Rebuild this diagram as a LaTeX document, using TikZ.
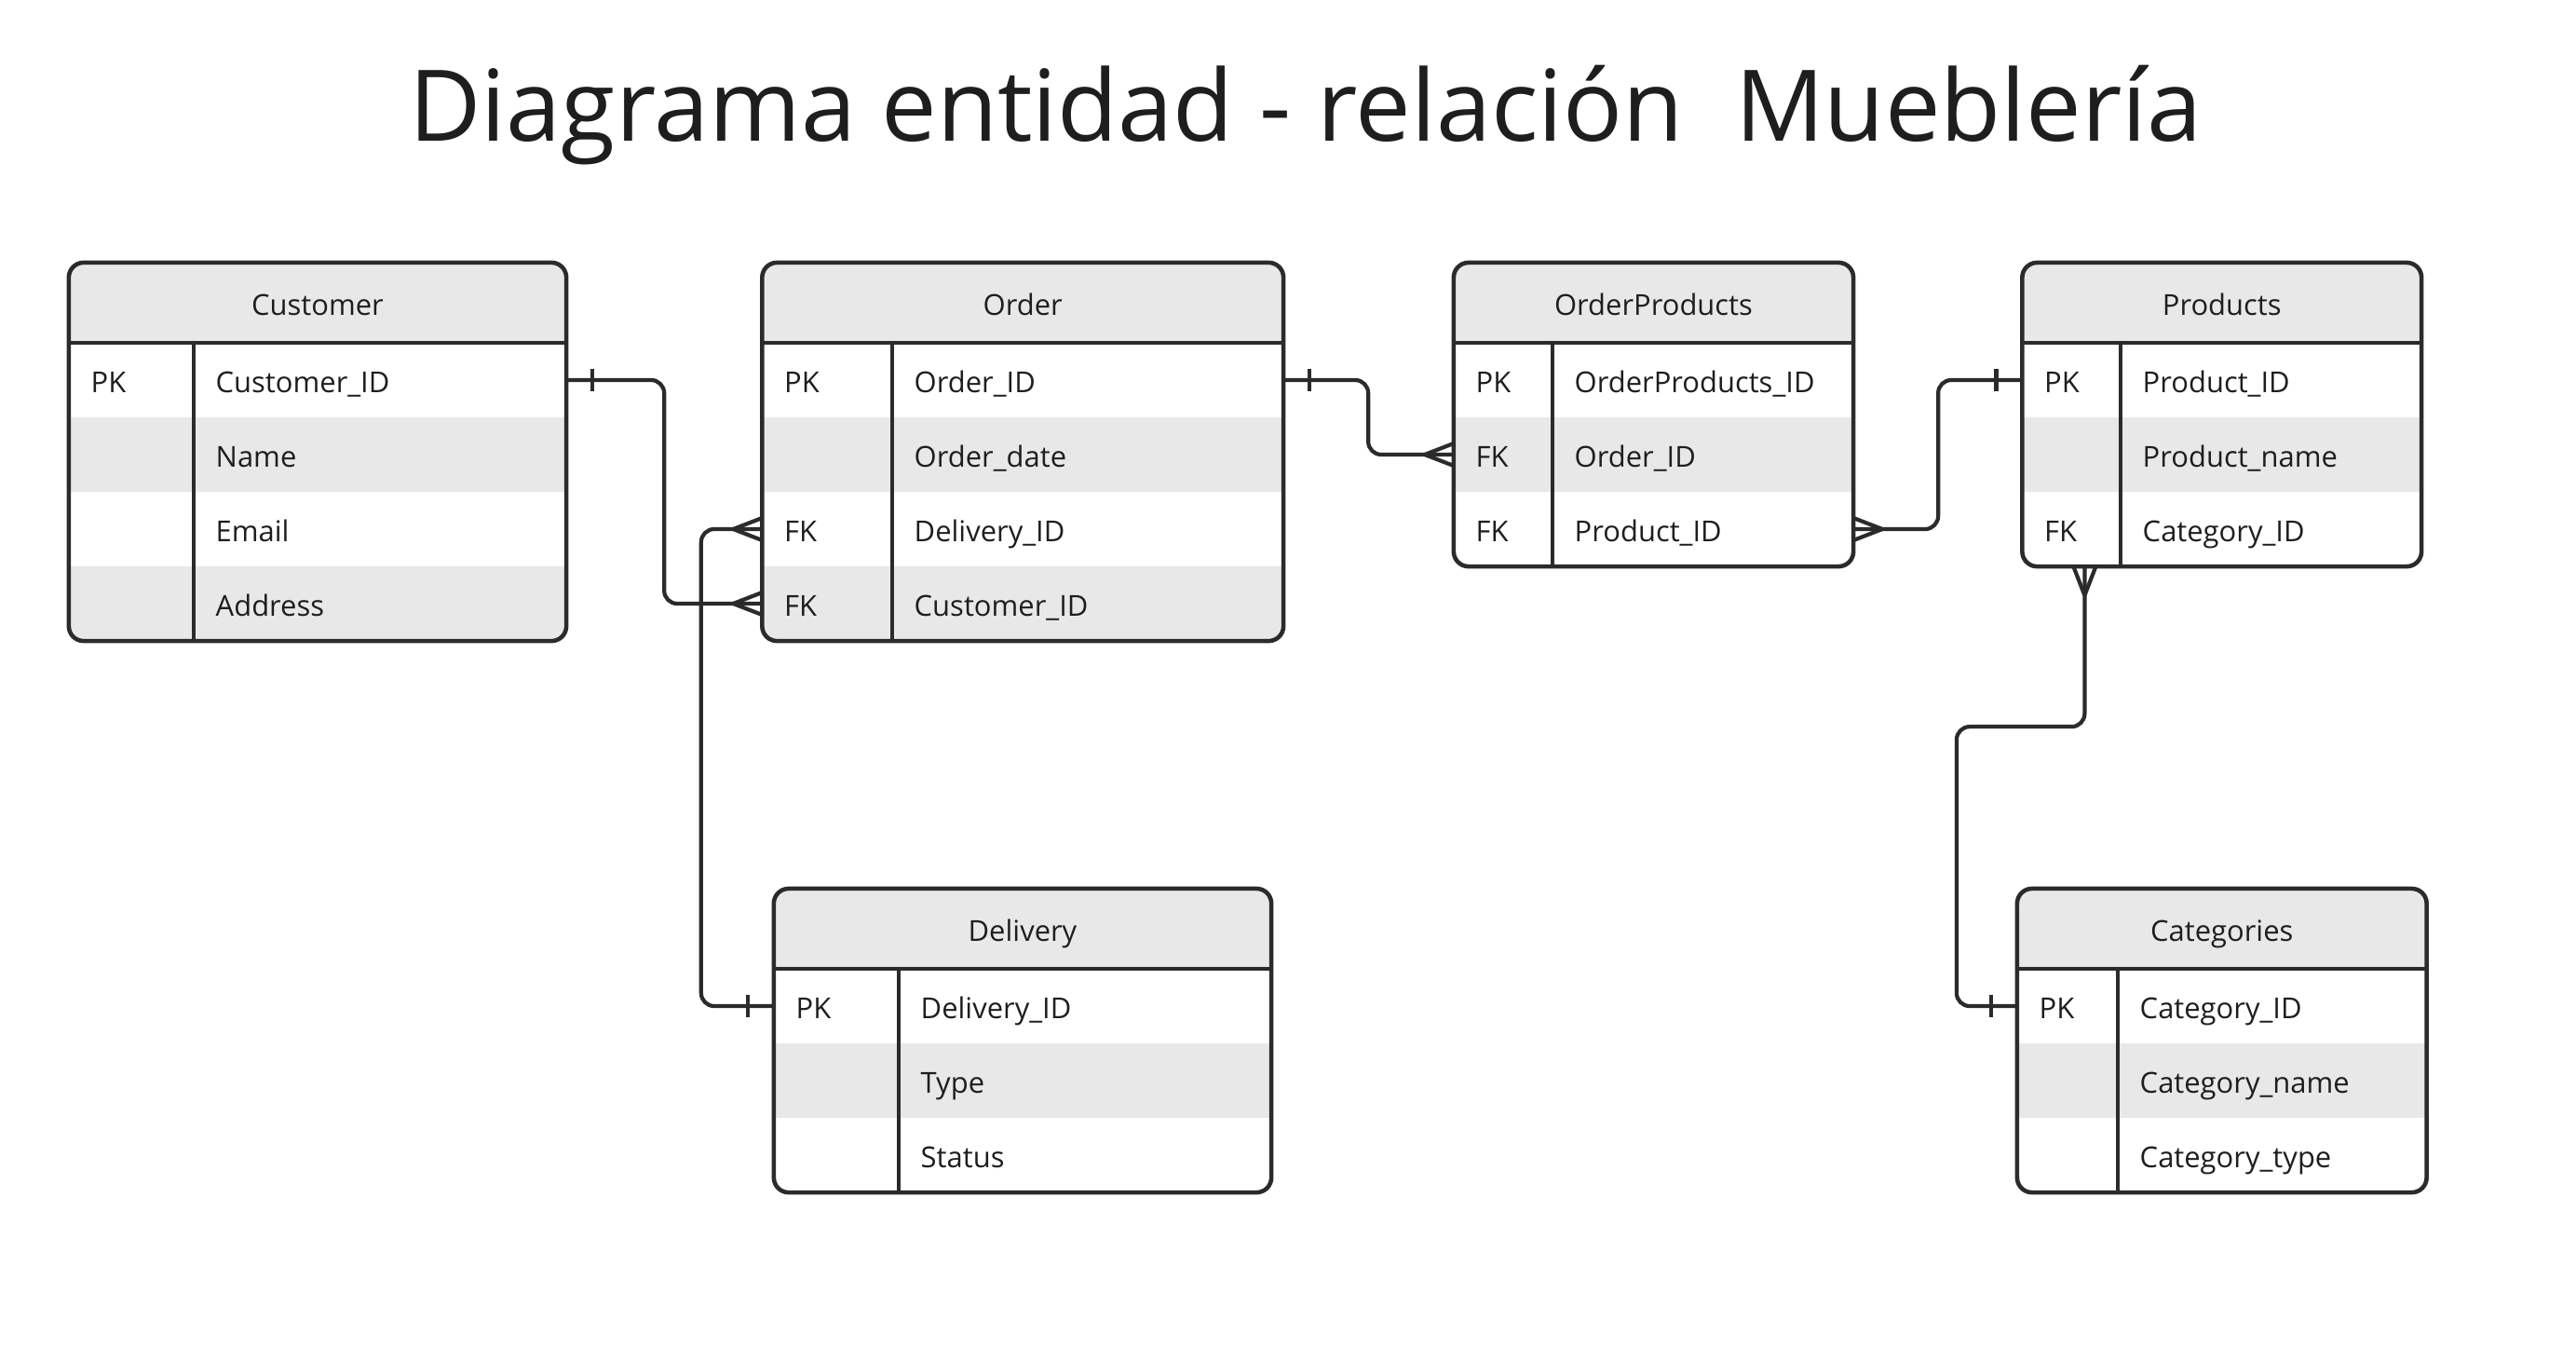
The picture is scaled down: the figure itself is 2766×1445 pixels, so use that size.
\documentclass[tikz,border=0pt]{standalone}
\usepackage{fontspec}
\setmainfont{Open Sans}
\usetikzlibrary{calc}
\definecolor{linecol}{HTML}{2B2B2B}
\definecolor{txtcol}{HTML}{1E1E1E}
\definecolor{rowgray}{HTML}{E8E8E8}
\tikzset{
  tbl/.style={draw=linecol, line width=1.3pt, rounded corners=0.16cm, inner sep=0pt, outer sep=0pt},
  tabline/.style={draw=linecol, line width=1.1pt},
  txt/.style={text=txtcol, font=\fontsize{8.8}{10}\selectfont, inner sep=0pt},
  conn/.style={draw=linecol, line width=1.2pt, rounded corners=0.14cm},
  ermark/.style={draw=linecol, line width=1.2pt}
}
% #1 name #2 x1 #3 x2 #4 divider x #5 top y #6 rows #7 title #8 rows list
\newcommand{\ertab}[8]{%
  \pgfmathsetmacro{\erhb}{#5+86}%
  \pgfmathsetmacro{\erbot}{#5+86+80*#6}%
  \pgfmathsetmacro{\erw}{(#3-#2)/100}%
  \pgfmathsetmacro{\erh}{(\erbot-#5)/100}%
  \begin{scope}
    \clip[rounded corners=0.16cm] (#2,#5) rectangle (#3,\erbot);
    \fill[rowgray] (#2,#5) rectangle (#3,\erhb);
    \foreach \i in {1,...,#6}{%
      \ifodd\i\relax\else
        \fill[rowgray] (#2,{\erhb+80*(\i-1)}) rectangle (#3,{\erhb+80*\i});
      \fi}
  \end{scope}
  \draw[tabline] (#2,\erhb) -- (#3,\erhb);
  \draw[tabline] (#4,\erhb) -- (#4,\erbot);
  \node[tbl, minimum width=\erw cm, minimum height=\erh cm] (#1) at ({(#2+#3)/2},{(#5+\erbot)/2}) {};
  \node[txt, anchor=base] (#1-title) at ({(#2+#3)/2},{#5+56}) {#7};
  \foreach \k/\f [count=\i] in {#8}{%
    \coordinate (#1-row\i) at ({(#2+#3)/2},{\erhb+80*\i-40});
    \node[txt, anchor=base west] (#1-k\i) at ({#2+23},{\erhb+80*\i-27}) {\k};
    \node[txt, anchor=base west] (#1-f\i) at ({#4+23},{\erhb+80*\i-27}) {\f};
  }%
}
\newcommand{\crowW}[1]{\draw[ermark] ($(#1)+(-31,0)$) -- ($(#1)+(0,-12)$) ($(#1)+(-31,0)$) -- ($(#1)+(0,12)$);}
\newcommand{\crowE}[1]{\draw[ermark] ($(#1)+(31,0)$) -- ($(#1)+(0,-12)$) ($(#1)+(31,0)$) -- ($(#1)+(0,12)$);}
\newcommand{\crowS}[1]{\draw[ermark] ($(#1)+(0,31)$) -- ($(#1)+(-12,0)$) ($(#1)+(0,31)$) -- ($(#1)+(12,0)$);}
\newcommand{\barW}[1]{\draw[ermark] ($(#1)+(-28,-12)$) -- ($(#1)+(-28,12)$);}
\newcommand{\barE}[1]{\draw[ermark] ($(#1)+(28,-12)$) -- ($(#1)+(28,12)$);}
\begin{document}
\begin{tikzpicture}[x=0.01cm, y=-0.01cm]
\fill[white] (0,0) rectangle (2766,1445);
\useasboundingbox (0,0) rectangle (2766,1445);

\node[text=txtcol, font=\fontsize{30.2}{36}\selectfont, anchor=base, inner sep=0pt] (title) at (1402,151) {Diagrama entidad - relación\ \ Mueblería};

\ertab{cust}{74}{608}{208}{282}{4}{Customer}{PK/Customer\_ID,{}/Name,{}/Email,{}/Address}
\ertab{order}{818.5}{1378}{958}{282}{4}{Order}{PK/Order\_ID,{}/Order\_date,FK/Delivery\_ID,FK/Customer\_ID}
\ertab{op}{1561}{1990}{1667}{282}{3}{OrderProducts}{PK/OrderProducts\_ID,FK/Order\_ID,FK/Product\_ID}
\ertab{prod}{2171.5}{2600}{2277}{282}{3}{Products}{PK/Product\_ID,{}/Product\_name,FK/Category\_ID}
\ertab{deliv}{831}{1365}{965}{954}{3}{Delivery}{PK/Delivery\_ID,{}/Type,{}/Status}
\ertab{cat}{2166}{2605.5}{2274}{954}{3}{Categories}{PK/Category\_ID,{}/Category\_name,{}/Category\_type}

% connectors
\coordinate (e1s) at (cust.east |- cust-row1);
\coordinate (e1t) at (order.west |- order-row4);
\draw[conn] (e1s) -- ++(105,0) |- (e1t);
\barE{e1s} \crowW{e1t}

\coordinate (e2s) at (deliv.west |- deliv-row1);
\coordinate (e2t) at (order.west |- order-row3);
\draw[conn] (e2s) -- ++(-78,0) |- (e2t);
\barW{e2s} \crowW{e2t}

\coordinate (e3s) at (order.east |- order-row1);
\coordinate (e3t) at (op.west |- op-row2);
\draw[conn] (e3s) -- ++(91,0) |- (e3t);
\barE{e3s} \crowW{e3t}

\coordinate (e4s) at (op.east |- op-row3);
\coordinate (e4t) at (prod.west |- prod-row1);
\draw[conn] (e4s) -- ++(91,0) |- (e4t);
\crowE{e4s} \barW{e4t}

\coordinate (e5s) at ($(prod.south west)+(67,0)$);
\coordinate (e5t) at (cat.west |- cat-row1);
\draw[conn] (e5s) -- ++(0,172) -- ++(-137.5,0) |- (e5t);
\crowS{e5s} \barW{e5t}
\end{tikzpicture}
\end{document}
